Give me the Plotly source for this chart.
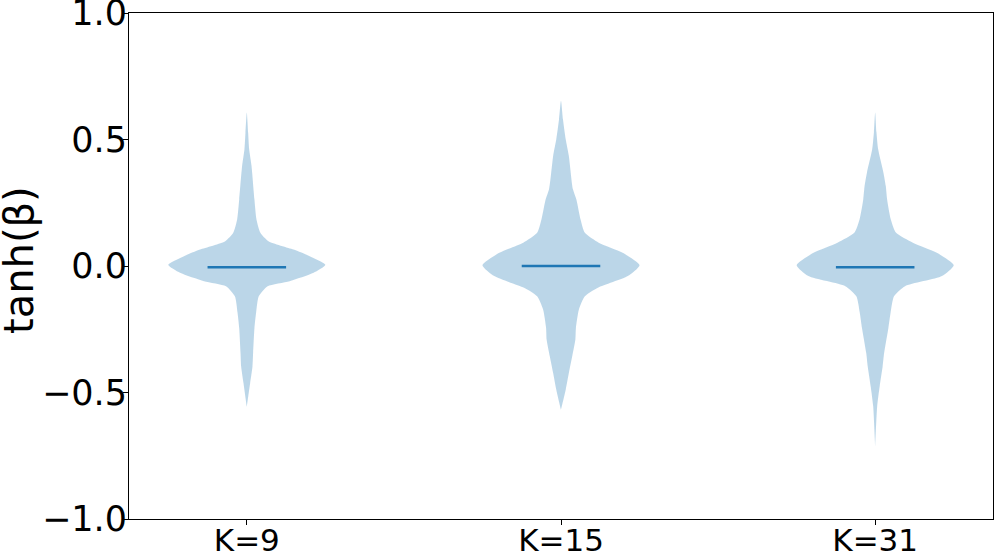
import numpy as np
import plotly.graph_objects as go

# categories and positions
labels = ["K=9", "K=15", "K=31"]
positions = [1, 2, 3]

# density profiles: tanh(beta) levels and relative width (1 = widest)
k9_levels = [0.607, 0.527, 0.461, 0.395, 0.263, 0.184, 0.131, 0.098, 0.065, 0.039, 0.005,
             -0.027, -0.060, -0.080, -0.120, -0.185, -0.245, -0.344, -0.397, -0.463, -0.556]
k9_width = [0.0, 0.017, 0.03, 0.06, 0.097, 0.123, 0.173, 0.275, 0.595, 0.80, 1.0,
            0.85, 0.545, 0.265, 0.152, 0.118, 0.097, 0.08, 0.072, 0.042, 0.0]

k15_levels = [0.653, 0.58, 0.501, 0.435, 0.303, 0.263, 0.184, 0.131, 0.092, 0.052, 0.003,
              -0.040, -0.086, -0.120, -0.172, -0.245, -0.291, -0.357, -0.423, -0.489, -0.568]
k15_width = [0.0, 0.025, 0.06, 0.10, 0.152, 0.196, 0.249, 0.304, 0.48, 0.785, 1.0,
             0.85, 0.47, 0.304, 0.228, 0.19, 0.183, 0.143, 0.10, 0.06, 0.0]

k31_levels = [0.607, 0.53, 0.461, 0.369, 0.316, 0.263, 0.184, 0.131, 0.092, 0.052, 0.003,
              -0.040, -0.080, -0.120, -0.185, -0.245, -0.344, -0.397, -0.476, -0.555, -0.714]
k31_width = [0.0, 0.016, 0.038, 0.105, 0.135, 0.152, 0.199, 0.266, 0.48, 0.785, 1.0,
             0.85, 0.38, 0.24, 0.196, 0.168, 0.114, 0.095, 0.057, 0.025, 0.0]

medians = [-0.005, 0.0, -0.005]

y_ticks = [-1, -0.5, 0, 0.5, 1]
y_ticktext = ["\u22121.0", "\u22120.5", "0.0", "0.5", "1.0"]

profiles = [(k9_levels, k9_width), (k15_levels, k15_width), (k31_levels, k31_width)]

half_width = 0.25
fig = go.Figure()

for pos, (lev, wid), med in zip(positions, profiles, medians):
    lev = np.array(lev)
    wid = np.array(wid) * half_width
    xs = np.concatenate([pos + wid, (pos - wid)[::-1]])
    ys = np.concatenate([lev, lev[::-1]])
    fig.add_trace(go.Scatter(
        x=xs, y=ys, mode="lines", fill="toself",
        fillcolor="rgba(31,119,180,0.3)",
        line=dict(width=0, shape="spline", smoothing=0.6),
        hoverinfo="skip", showlegend=False
    ))
    # median line
    fig.add_trace(go.Scatter(
        x=[pos - half_width / 2, pos + half_width / 2], y=[med, med],
        mode="lines", line=dict(color="#1f77b4", width=2.5),
        showlegend=False
    ))

fig.update_layout(
    width=996, height=558,
    margin=dict(l=129, r=3, t=13, b=39),
    plot_bgcolor="white", paper_bgcolor="white",
    font=dict(family="DejaVu Sans", size=35, color="black"),
)
fig.update_xaxes(
    range=[0.625, 3.375], tickvals=positions, ticktext=labels,
    tickfont=dict(size=31),
    showgrid=False, zeroline=False, showline=True, mirror=True,
    linecolor="black", linewidth=1, ticks="outside", ticklen=5, tickcolor="black",
    automargin=False, ticklabeloverflow="allow", ticklabelstandoff=-11,
)
fig.update_yaxes(
    range=[-1, 1], tickvals=y_ticks, ticktext=y_ticktext,
    tickfont=dict(size=35),
    showgrid=False, zeroline=False, showline=True, mirror=True,
    linecolor="black", linewidth=1, ticks="outside", ticklen=5, tickcolor="black",
    automargin=False, ticklabeloverflow="allow", ticklabelstandoff=-11,
)

# y axis title placed next to the tick labels
fig.add_annotation(
    text="tanh(\u03b2)", xref="paper", yref="paper", x=0, y=0.5,
    xshift=-110, yshift=6, textangle=-90, showarrow=False, borderpad=0,
    font=dict(size=40), xanchor="center", yanchor="middle",
)

# drop the default page margin so the figure sits at the window corner
fig.write_html("out.html", config={"displayModeBar": False},
               post_script="document.body.style.margin='0';")
